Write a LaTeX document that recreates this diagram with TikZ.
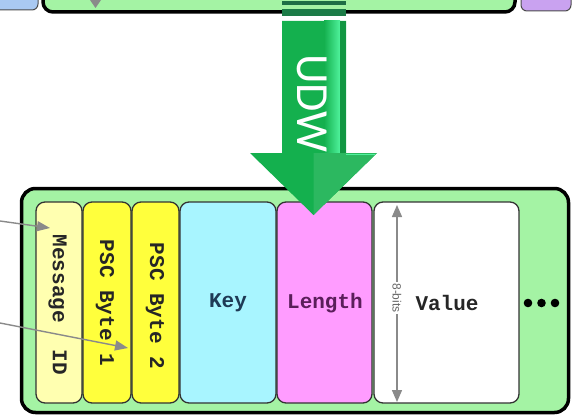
\documentclass[tikz,border=0pt]{standalone}
\usepackage{fontspec}
\setmainfont{Liberation Sans}
\newfontfamily\courfont{Liberation Mono}
\newfontfamily\udwfont{Carlito}
\usetikzlibrary{arrows.meta}
\definecolor{bargreen}{HTML}{A4F3A4}
\definecolor{topblue}{HTML}{A9C9F2}
\definecolor{toppurple}{HTML}{C9A2F0}
\definecolor{msgc}{HTML}{FFFFB0}
\definecolor{pscc}{HTML}{FFFF3C}
\definecolor{keyc}{HTML}{A8F5FF}
\definecolor{lenc}{HTML}{FF9CFF}
\definecolor{udwgreen}{HTML}{14B04E}
\definecolor{udwlight}{HTML}{4FF29C}
\definecolor{udwdark}{HTML}{1E6E45}
\definecolor{arrgray}{HTML}{8A8A8A}
\definecolor{keytext}{HTML}{1E3A55}
\definecolor{lentext}{HTML}{5A1E5A}
\tikzset{
  field/.style={draw=black!80, line width=1.3pt, rounded corners=9pt, inner sep=0pt, minimum height=201pt},
  lbl/.style={font=\courfont\bfseries\fontsize{21}{21}\selectfont, inner sep=0pt, text=black!85},
  grayarr/.style={draw=arrgray, line width=1.4pt, -{Triangle[length=13pt,width=10pt,fill=arrgray]}},
  dblarr/.style={draw=arrgray, line width=1.4pt, {Triangle[length=12pt,width=10pt,fill=arrgray]}-{Triangle[length=12pt,width=10pt,fill=arrgray]}},
  dot/.style={fill=black}
}
\begin{document}
\begin{tikzpicture}[x=1pt,y=-1pt]
\useasboundingbox (0,0) rectangle (578,417);
\clip (0,0) rectangle (578,417);
% top fragments
\draw[fill=topblue, draw=black!70, line width=1pt, rounded corners=6pt] (-12,-20) rectangle (38,10);
\draw[fill=toppurple, draw=black!70, line width=1pt, rounded corners=6pt] (521,-20) rectangle (571,11);
\draw[fill=bargreen, line width=3.5pt, rounded corners=10pt] (43,-20) rectangle (515,12);
\fill[arrgray] (90,0) -- (101,0) -- (95.5,8) -- cycle;
% bottom container
\node[draw=black, line width=3.5pt, fill=bargreen, rounded corners=14pt, minimum width=547pt, minimum height=224pt, inner sep=0pt] (outer) at (295,300.5) {};
% fields
\node[field, fill=msgc, minimum width=46pt] (msg) at (59,302.5) {};
\node[field, fill=pscc, minimum width=48pt] (psc1) at (107,302.5) {};
\node[field, fill=pscc, minimum width=47pt] (psc2) at (155.5,302.5) {};
\node[field, fill=keyc, minimum width=96pt] (key) at (228,302.5) {};
\node[field, fill=lenc, minimum width=95pt] (len) at (324.5,302.5) {};
\node[field, fill=white, minimum width=145pt] (val) at (446.5,302.5) {};
% labels
\node[lbl, rotate=-90] (msgt) at (57.5,305) {Message\hspace{27pt}ID};
\node[lbl, rotate=-90] (psc1t) at (105,303) {PSC Byte 1};
\node[lbl, rotate=-90] (psc2t) at (155,306) {PSC Byte 2};
\node[lbl, text=keytext] (keyt) at (228,303) {Key};
\node[lbl, text=lentext] (lent) at (325,303) {Length};
\node[lbl] (valt) at (447,303) {Value};
% dots
\fill[dot] (528,303) circle (4.3);
\fill[dot] (541.5,303) circle (4.3);
\fill[dot] (555,303) circle (4.3);
% 8-bits dimension
\coordinate (vt) at (397,205);
\coordinate (vb) at (397,402);
\draw[dblarr] (vt) -- (vb);
\node[font=\fontsize{12}{12}\selectfont, text=black!60, fill=white, rotate=-90, inner sep=1.5pt] (bits) at (397,298) {8-bits};
% incoming gray arrows
\coordinate (a1s) at (0,221);
\coordinate (a1e) at (50,228);
\draw[grayarr] (a1s) -- (a1e);
\coordinate (a2s) at (0,323);
\coordinate (a2e) at (128,348);
\draw[grayarr] (a2s) -- (a2e);
% UDW arrow
\fill[udwdark] (282,1.5) rectangle (346,5);
\fill[udwdark!80!udwgreen] (282,9) rectangle (346,16);
\fill[udwgreen] (282,21) -- (346,21) -- (346,153) -- (377,153) -- (313.5,215) -- (250,153) -- (282,153) -- cycle;
\shade[left color=udwgreen, right color=udwlight] (324,21) rectangle (340,153);
\fill[udwgreen!85!black] (340,21) rectangle (346,153);
\fill[udwgreen!90!white] (313.5,153) -- (377,153) -- (313.5,215) -- cycle;
\draw[udwlight, line width=1pt] (346,154) -- (375,154);
\node[font=\udwfont\fontsize{46}{46}\selectfont, text=white, rotate=-90, inner sep=0pt] (udw) at (312.5,103.5) {UDW};
\end{tikzpicture}
\end{document}
